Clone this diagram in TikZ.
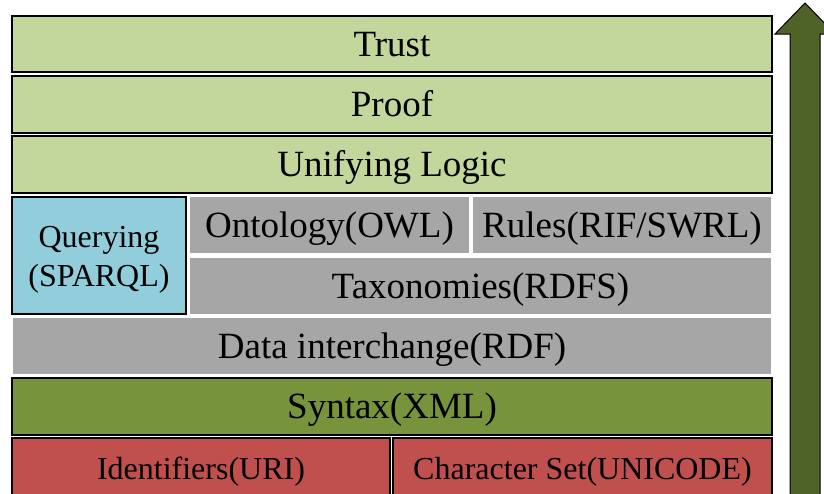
\documentclass[tikz,border=0pt]{standalone}
\usepackage{fontspec}
\setmainfont{Liberation Serif}
\definecolor{lgreen}{HTML}{C3D69B}
\definecolor{olivebox}{HTML}{77933C}
\definecolor{redbox}{HTML}{C0504D}
\definecolor{bluebox}{HTML}{92CDDC}
\definecolor{graybox}{HTML}{A6A6A6}
\definecolor{darkgreen}{HTML}{4F6228}
\begin{document}
\begin{tikzpicture}[x=0.5pt,y=-0.5pt,
  layer/.style={draw=black, line width=1pt, inner sep=0pt, text height=12.25pt, text depth=0pt,
    font=\fontsize{18.5}{22}\selectfont},
  glayer/.style={layer, draw=white, line width=0.6pt},
  small/.style={font=\fontsize{16}{19}\selectfont, text height=10.6pt}
]
\useasboundingbox (0,0) rectangle (824,493);
\clip (0,0) rectangle (824,493);
% arrow
\draw[fill=darkgreen, draw=black, line width=0.5pt]
  (805,3) -- (835,34) -- (820,34) -- (820,520) -- (790,520) -- (790,34) -- (775,34) -- cycle;
% layers
\node[layer, fill=lgreen, minimum width=380pt, minimum height=28pt] (trust) at (392,44) {Trust};
\node[layer, fill=lgreen, minimum width=380pt, minimum height=28.5pt] (proof) at (392,104.5) {Proof};
\node[layer, fill=lgreen, minimum width=380pt, minimum height=28.5pt] (logic) at (392,164.5) {Unifying Logic};
\node[layer, fill=bluebox, minimum width=87pt, minimum height=58.5pt] (query) at (99,255.5) {};
\node[inner sep=0pt, align=center, font=\fontsize{16}{19.4}\selectfont] (querytext) at ([yshift=-2pt]query.center) {Querying\\(SPARQL)};
\node[glayer, fill=graybox, minimum width=140.5pt, minimum height=29pt] (owl) at (329.5,225) {Ontology(OWL)};
\node[glayer, fill=graybox, minimum width=150pt, minimum height=29pt] (rules) at (622,225) {Rules(RIF/SWRL)};
\node[glayer, fill=graybox, minimum width=291.5pt, minimum height=29pt] (rdfs) at (480.5,286) {Taxonomies(RDFS)};
\node[glayer, fill=graybox, minimum width=380pt, minimum height=29pt] (rdf) at (392,346) {Data interchange(RDF)};
\node[layer, fill=olivebox, minimum width=380pt, minimum height=28.5pt] (xml) at (392,406.5) {Syntax(XML)};
\node[layer, fill=redbox, small, minimum width=189pt, minimum height=31pt] (uri) at (201,469) {Identifiers(URI)};
\node[layer, fill=redbox, small, minimum width=189.5pt, minimum height=31pt] (unicode) at (582.5,469) {Character Set(UNICODE)};
\end{tikzpicture}
\end{document}
